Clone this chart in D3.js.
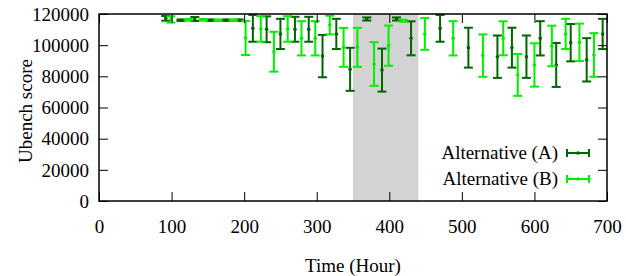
<!DOCTYPE html>
<html>
<head>
<meta charset="utf-8">
<script src="https://cdn.jsdelivr.net/npm/d3@7"></script>
<style>
html,body{margin:0;padding:0;background:#fff;}
svg{display:block;}
</style>
</head>
<body>
<svg id="chart" width="626" height="276"></svg>
<script>
// ---- data ----
const xTicks = [0, 100, 200, 300, 400, 500, 600, 700];
const yTicks = [0, 20000, 40000, 60000, 80000, 100000, 120000];
const shadeRange = [350, 440];
const seriesNames = ["Alternative (A)", "Alternative (B)"];

const timeA = [92, 113, 132, 154, 175, 193, 212, 231, 250, 270, 289, 308, 327, 346, 369, 390, 410, 430, 470, 509, 549, 569, 589, 608, 630, 650, 672, 694];
const meanA = [117200, 116000, 116800, 116000, 116000, 116000, 110800, 110200, 107200, 110200, 110200, 93000, 107200, 84500, 116800, 84000, 116800, 104400, 110800, 98400, 92600, 98400, 92600, 104400, 87300, 101600, 90600, 107200];
const errA = [1500, 500, 1300, 500, 500, 500, 8600, 8300, 9700, 8000, 8000, 13600, 9700, 13800, 1000, 13800, 1000, 10900, 8600, 12800, 13600, 12800, 13600, 11000, 14100, 12000, 13900, 9700];

const timeB = [99, 123, 144, 164, 185, 202, 223, 241, 260, 279, 298, 318, 337, 356, 379, 399, 419, 449, 488, 529, 557, 577, 600, 624, 643, 662, 682];
const meanB = [116500, 116300, 116300, 116000, 116000, 104600, 110400, 95800, 110400, 104400, 104400, 112900, 98600, 98600, 87900, 99700, 115700, 107200, 104400, 93300, 104400, 80900, 87300, 99500, 107200, 101800, 93700];
const errB = [2000, 500, 500, 500, 500, 10900, 8200, 12800, 8200, 11000, 11000, 6000, 12500, 12500, 14000, 12900, 600, 10200, 11000, 13600, 10900, 13400, 13900, 13000, 9700, 12000, 14000];

// ---- layout ----
const W = 626, H = 276;
const margin = {left: 99, right: 19, top: 14, bottom: 75};
const iw = W - margin.left - margin.right;
const ih = H - margin.top - margin.bottom;
const colors = ["#006400", "#00ee00"];
const fontSize = 19;
const FONT = "'Liberation Serif', 'Times New Roman', serif";

const svg = d3.select("#chart");
const g = svg.append("g").attr("transform", `translate(${margin.left},${margin.top})`);

const x = d3.scaleLinear().domain([0, 700]).range([0, iw]);
const y = d3.scaleLinear().domain([0, 120000]).range([ih, 0]);

// shaded region
g.append("rect")
  .attr("x", x(shadeRange[0])).attr("y", 0)
  .attr("width", x(shadeRange[1]) - x(shadeRange[0]))
  .attr("height", ih)
  .attr("fill", "#d3d3d3");

// series
const series = [
  timeA.map((t, i) => ({t, v: meanA[i], e: errA[i]})),
  timeB.map((t, i) => ({t, v: meanB[i], e: errB[i]}))
];
const cap = 4.5;
series.forEach((data, si) => {
  const sg = g.append("g").attr("stroke", colors[si]).attr("fill", colors[si]).attr("stroke-width", 2);
  const bars = sg.selectAll("g.bar").data(data).join("g").attr("class", "bar");
  bars.append("line")
    .attr("x1", d => x(d.t)).attr("x2", d => x(d.t))
    .attr("y1", d => y(d.v + d.e)).attr("y2", d => y(d.v - d.e));
  bars.append("line")
    .attr("x1", d => x(d.t) - cap).attr("x2", d => x(d.t) + cap)
    .attr("y1", d => y(d.v + d.e)).attr("y2", d => y(d.v + d.e));
  bars.append("line")
    .attr("x1", d => x(d.t) - cap).attr("x2", d => x(d.t) + cap)
    .attr("y1", d => y(d.v - d.e)).attr("y2", d => y(d.v - d.e));
  bars.append("circle")
    .attr("cx", d => x(d.t)).attr("cy", d => y(d.v)).attr("r", 1.8).attr("stroke", "none");
});

// axes (inward ticks, mirrored)
const tickLen = 9;
const axB = g.append("g").attr("transform", `translate(0,${ih})`)
  .call(d3.axisBottom(x).tickValues(xTicks).tickSize(-tickLen).tickPadding(19));
const axT = g.append("g")
  .call(d3.axisTop(x).tickValues(xTicks).tickSize(-tickLen).tickFormat(""));
const axL = g.append("g")
  .call(d3.axisLeft(y).tickValues(yTicks).tickSize(-tickLen).tickPadding(10).tickFormat(d3.format("d")));
const axR = g.append("g").attr("transform", `translate(${iw},0)`)
  .call(d3.axisRight(y).tickValues(yTicks).tickSize(-tickLen).tickFormat(""));
[axB, axT, axL, axR].forEach(a => {
  a.attr("font-family", null).attr("font-size", null);
  a.select(".domain").remove();
  a.selectAll(".tick line").attr("stroke", "#000").attr("stroke-width", 1);
});
axL.selectAll("text").attr("dy", "0.33em");

// border
g.append("rect").attr("x", 0).attr("y", 0).attr("width", iw).attr("height", ih)
  .attr("fill", "none").attr("stroke", "#000").attr("stroke-width", 1.5);

// axis titles
svg.append("text")
  .attr("x", margin.left + iw / 2).attr("y", 272)
  .attr("text-anchor", "middle")
  .text("Time (Hour)");
svg.append("text")
  .attr("transform", `translate(32,111) rotate(-90)`)
  .attr("text-anchor", "middle")
  .text("Ubench score");

// legend
const legY = [153, 179];
seriesNames.forEach((name, i) => {
  const lg = svg.append("g");
  lg.append("text")
    .attr("x", 558).attr("y", legY[i]).attr("dy", "0.33em")
    .attr("text-anchor", "end")
    .text(name);
  const x1 = 567, x2 = 589, yy = legY[i];
  const lg2 = lg.append("g").attr("stroke", colors[i]).attr("stroke-width", 2);
  lg2.append("line").attr("x1", x1).attr("x2", x2).attr("y1", yy).attr("y2", yy);
  lg2.append("line").attr("x1", x1).attr("x2", x1).attr("y1", yy - 4).attr("y2", yy + 4);
  lg2.append("line").attr("x1", x2).attr("x2", x2).attr("y1", yy - 4).attr("y2", yy + 4);
  lg.append("circle").attr("cx", (x1 + x2) / 2).attr("cy", yy).attr("r", 1.8).attr("fill", colors[i]);
});

svg.selectAll("text")
  .attr("font-family", FONT)
  .attr("font-size", fontSize)
  .attr("fill", "#000");
</script>
</body>
</html>
